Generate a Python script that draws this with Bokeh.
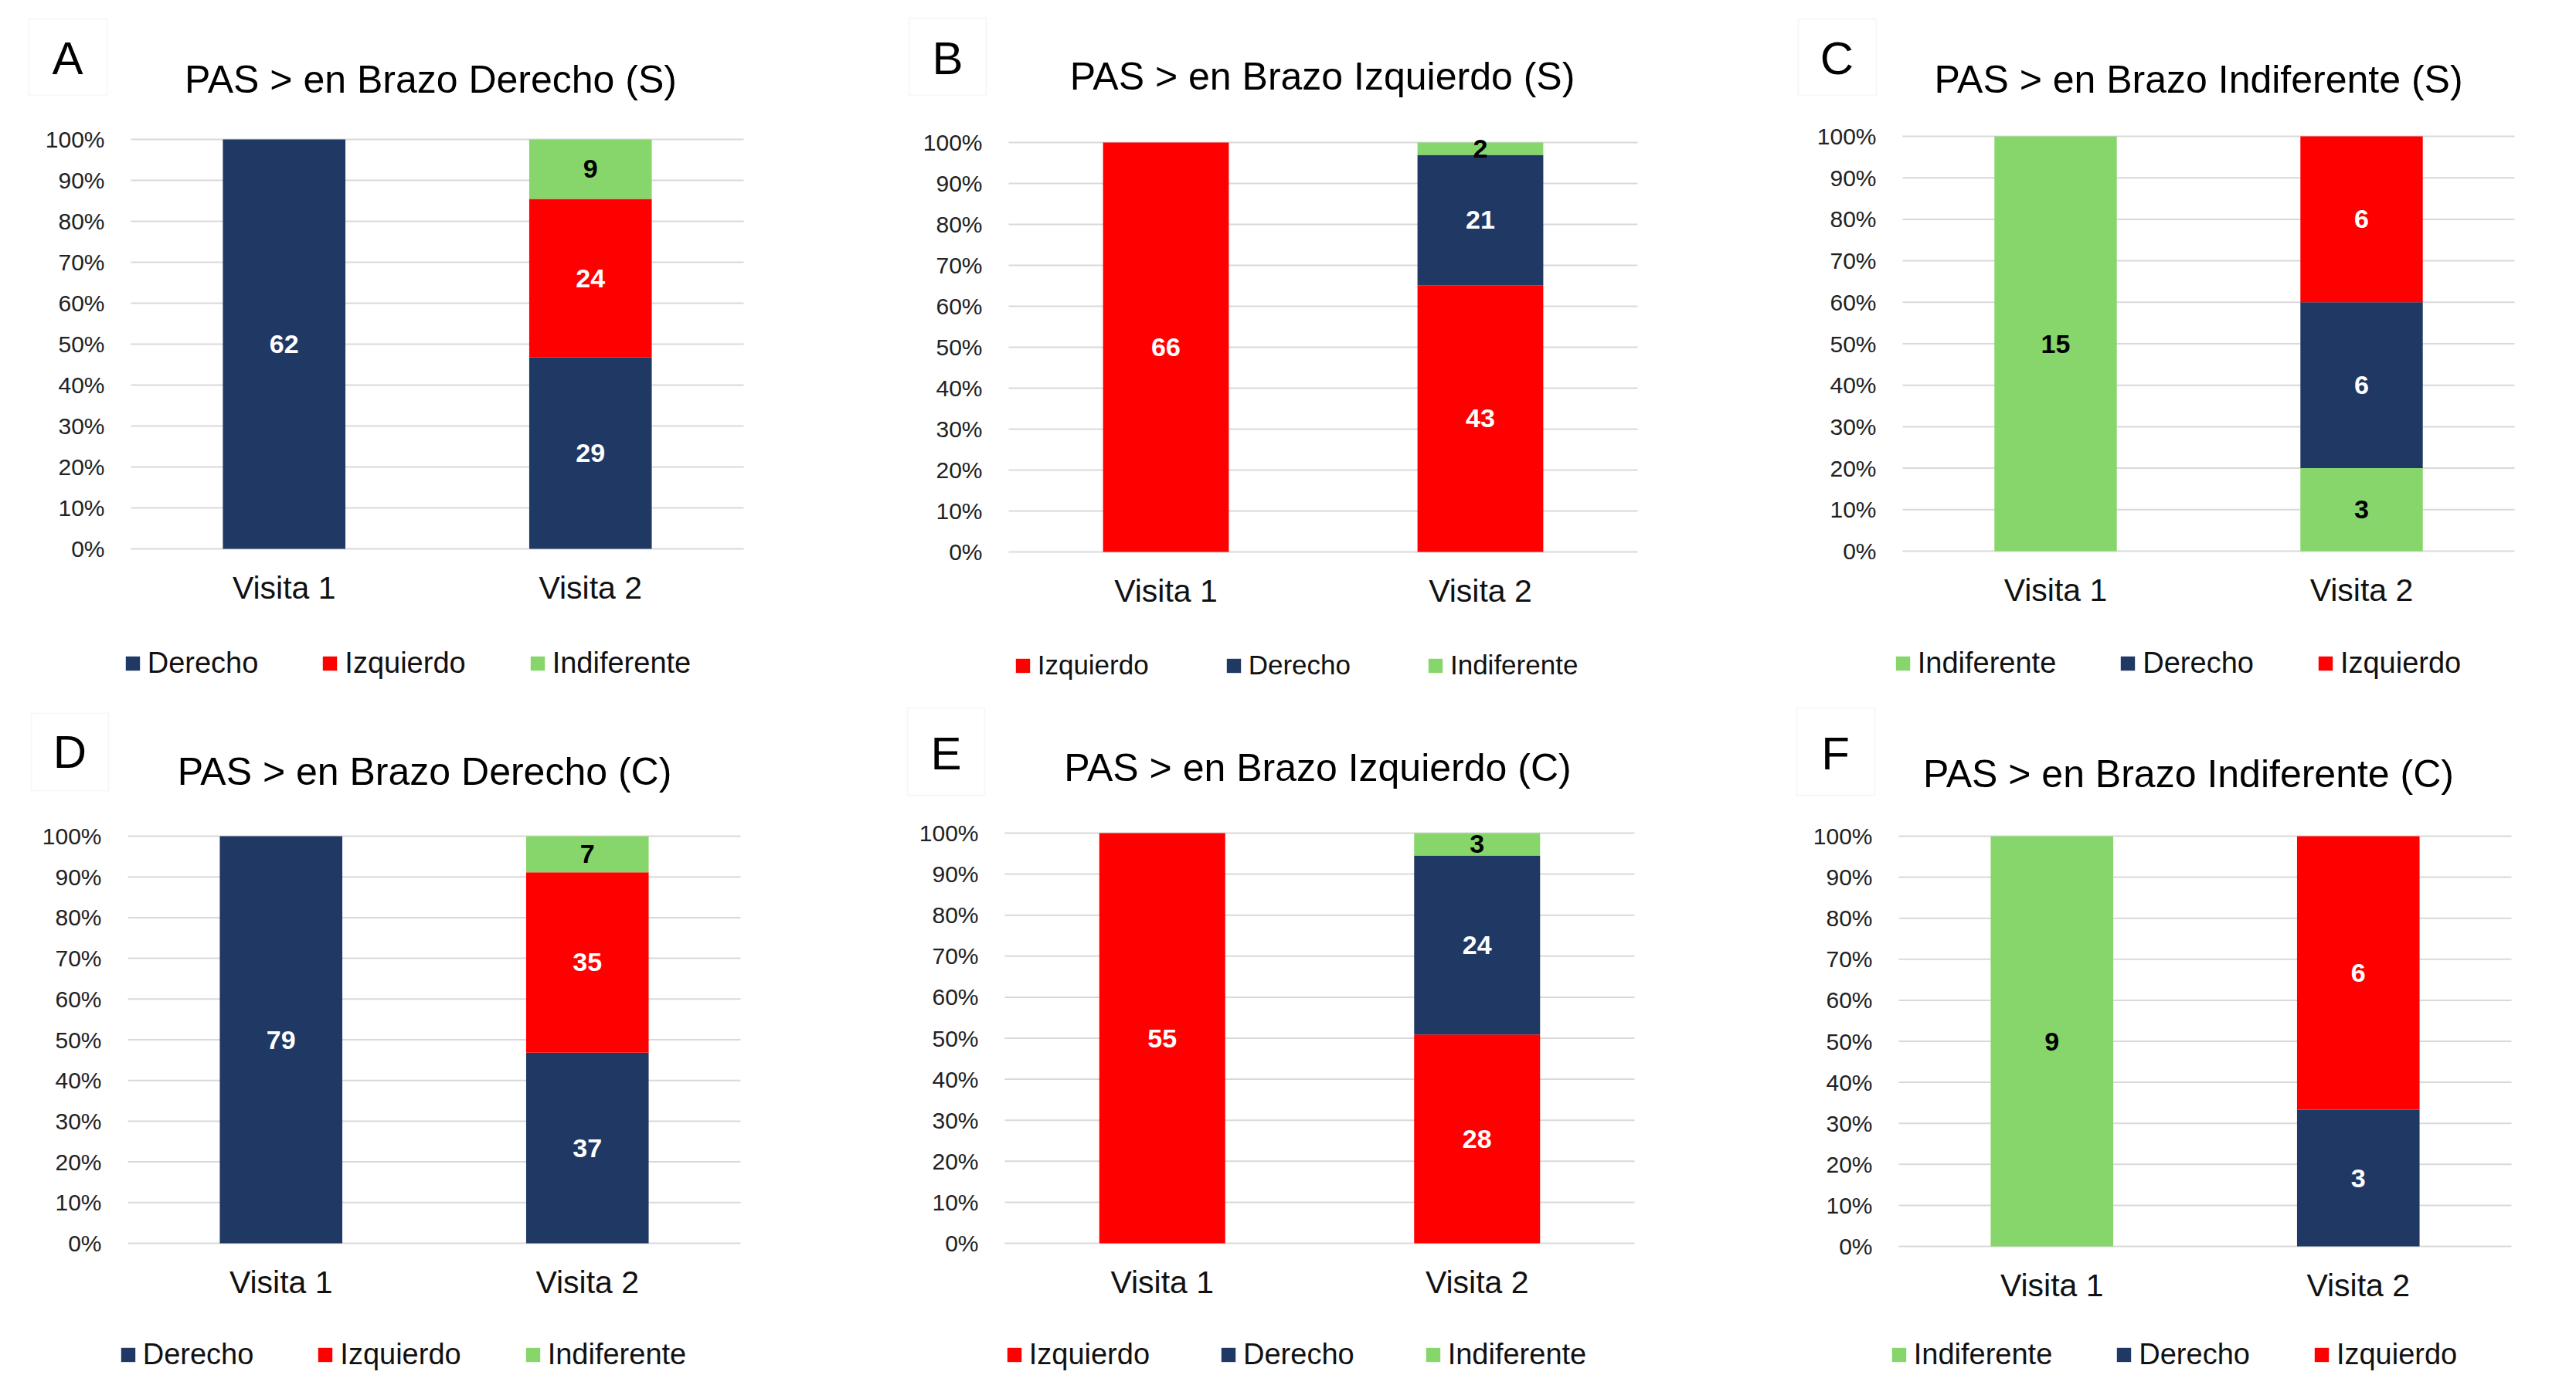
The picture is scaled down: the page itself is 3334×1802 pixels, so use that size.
from bokeh.plotting import figure
from bokeh.layouts import row, column
from bokeh.models import (Range1d, FixedTicker, PrintfTickFormatter, LinearAxis,
                          Label, BoxAnnotation, Legend, LegendItem, ColumnDataSource)
from bokeh.core.properties import value
from bokeh.embed import file_html
from bokeh.resources import INLINE

# ---------------- data ----------------
visitas = ["Visita 1", "Visita 2"]
y_ticks = [0, 10, 20, 30, 40, 50, 60, 70, 80, 90, 100]

a_derecho = [62, 29]
a_izquierdo = [0, 24]
a_indiferente = [0, 9]

b_izquierdo = [66, 43]
b_derecho = [0, 21]
b_indiferente = [0, 2]

c_indiferente = [15, 3]
c_derecho = [0, 6]
c_izquierdo = [0, 6]

d_derecho = [79, 37]
d_izquierdo = [0, 35]
d_indiferente = [0, 7]

e_izquierdo = [55, 28]
e_derecho = [0, 24]
e_indiferente = [0, 3]

f_indiferente = [9, 0]
f_derecho = [0, 3]
f_izquierdo = [0, 6]

titles = ["PAS > en Brazo Derecho (S)", "PAS > en Brazo Izquierdo (S)",
          "PAS > en Brazo Indiferente (S)", "PAS > en Brazo Derecho (C)",
          "PAS > en Brazo Izquierdo (C)", "PAS > en Brazo Indiferente (C)"]
letters = ["A", "B", "C", "D", "E", "F"]

series = [
    [("Derecho", a_derecho), ("Izquierdo", a_izquierdo), ("Indiferente", a_indiferente)],
    [("Izquierdo", b_izquierdo), ("Derecho", b_derecho), ("Indiferente", b_indiferente)],
    [("Indiferente", c_indiferente), ("Derecho", c_derecho), ("Izquierdo", c_izquierdo)],
    [("Derecho", d_derecho), ("Izquierdo", d_izquierdo), ("Indiferente", d_indiferente)],
    [("Izquierdo", e_izquierdo), ("Derecho", e_derecho), ("Indiferente", e_indiferente)],
    [("Indiferente", f_indiferente), ("Derecho", f_derecho), ("Izquierdo", f_izquierdo)],
]

# ---------------- styles ----------------
COLORS = {"Derecho": "#203864", "Izquierdo": "#FF0000", "Indiferente": "#87D66C"}
LABEL_COLORS = {"Derecho": "white", "Izquierdo": "white", "Indiferente": "black"}
FONT = "Liberation Sans"

# picture-pixel layout (plot area L, R, T, B; letter centre; box; title centre; legend)
layout_cfg = [
    dict(L=169, R=962, T=180, B=710, lc=(87, 75), box=(37, 24, 138, 123), tc=(557, 102),
         ly=858, lx=162, sp=81, lf=38),
    dict(L=1305, R=2119, T=184, B=714, lc=(1226, 75), box=(1176, 23, 1276, 123), tc=(1711, 98),
         ly=861, lx=1314, sp=98, lf=35),
    dict(L=2462, R=3254, T=176, B=713, lc=(2377, 75), box=(2327, 24, 2428, 123), tc=(2845, 102),
         ly=858, lx=2453, sp=81, lf=38),
    dict(L=165, R=958, T=1082, B=1609, lc=(90, 973), box=(40, 923, 140, 1023), tc=(549, 998),
         ly=1753, lx=156, sp=81, lf=38),
    dict(L=1300, R=2115, T=1078, B=1609, lc=(1224, 975), box=(1174, 916, 1274, 1029), tc=(1705, 993),
         ly=1753, lx=1303, sp=90, lf=38),
    dict(L=2457, R=3250, T=1082, B=1613, lc=(2375, 975), box=(2325, 916, 2426, 1029), tc=(2832, 1001),
         ly=1753, lx=2448, sp=81, lf=38),
]
col_edges = [(0, 1111), (1111, 2222), (2222, 3318)]
row_edges = [(0, 900), (900, 1786)]

GLYPH = 23            # legend glyph box; the drawn square is inset by 10 %
INSET = GLYPH * 0.1


def make_panel(i):
    cfg = layout_cfg[i]
    cx0, cx1 = col_edges[i % 3]
    ry0, ry1 = row_edges[i // 3]
    L, R, T, B = cfg["L"], cfg["R"], cfg["T"], cfg["B"]
    ppu = (R - L) / 2.0          # pixels per x unit (plot area spans 0.5 .. 2.5)
    ppy = (B - T) / 100.0        # pixels per percent

    def xd(X):
        return 0.5 + (X - L) / ppu

    def yd(Y):
        return (B - Y) / ppy

    p = figure(width=cx1 - cx0, height=ry1 - ry0,
               x_range=Range1d(xd(cx0), xd(cx1)), y_range=Range1d(yd(ry1), yd(ry0)),
               x_axis_type=None, y_axis_type=None,
               output_backend="svg", toolbar_location=None,
               min_border_left=0, min_border_right=0, min_border_top=0, min_border_bottom=0)
    p.outline_line_color = None
    p.background_fill_color = "white"
    p.border_fill_color = "white"

    xpos = [k + 1 for k in range(len(visitas))]

    # gridlines across the plot area
    p.segment(x0=[0.5] * len(y_ticks), x1=[len(visitas) + 0.5] * len(y_ticks),
              y0=y_ticks, y1=y_ticks, line_color="#d9d9d9", line_width=2)

    names = [n for n, _ in series[i]]
    totals = [sum(vals[k] for _, vals in series[i]) for k in range(len(visitas))]
    data = dict(x=xpos)
    for n, vals in series[i]:
        data[n] = [v / t * 100.0 for v, t in zip(vals, totals)]
    src = ColumnDataSource(data)
    rends = p.vbar_stack(names, x="x", width=0.4, color=[COLORS[n] for n in names],
                         source=src, line_width=0)

    # segment labels
    lx, ly, lt, lc = [], [], [], []
    for k in range(len(visitas)):
        base = 0.0
        for n, vals in series[i]:
            pct = vals[k] / totals[k] * 100.0
            if vals[k] > 0:
                lx.append(xpos[k])
                ly.append(base + pct / 2)
                lt.append(str(vals[k]))
                lc.append(LABEL_COLORS[n])
            base += pct
    p.text(x=lx, y=ly, text=lt, text_color=lc, text_font=value(FONT),
           text_font_style="bold", text_font_size="34px",
           text_align="center", text_baseline="middle")

    # axes (fixed at the plot-area edges)
    yax = LinearAxis(fixed_location=0.5, ticker=FixedTicker(ticks=y_ticks),
                     formatter=PrintfTickFormatter(format="%d%%"))
    yax.major_label_text_font = FONT
    yax.major_label_text_font_size = "30px"
    yax.major_label_text_color = "#222222"
    yax.major_label_standoff = 28
    yax.axis_line_color = None
    yax.major_tick_line_color = None
    yax.minor_tick_line_color = None
    p.add_layout(yax, "left")

    xax = LinearAxis(fixed_location=0, ticker=FixedTicker(ticks=xpos),
                     major_label_overrides={xp: v for xp, v in zip(xpos, visitas)})
    xax.major_label_text_font = FONT
    xax.major_label_text_font_size = "41px"
    xax.major_label_text_color = "#111111"
    xax.major_label_standoff = 21
    xax.axis_line_color = None
    xax.major_tick_line_color = None
    xax.minor_tick_line_color = None
    p.add_layout(xax, "below")

    # letter box + letter
    bx0, by0, bx1, by1 = cfg["box"]
    p.add_layout(BoxAnnotation(left=xd(bx0), right=xd(bx1), top=yd(by0), bottom=yd(by1),
                               fill_color="white", fill_alpha=1.0,
                               line_color="#e4e4e4", line_width=2))
    p.add_layout(Label(x=xd(cfg["lc"][0]), y=yd(cfg["lc"][1]),
                       text=letters[i], text_font=FONT, text_font_size="60px",
                       text_color="black", text_align="center", text_baseline="middle"))
    # title
    p.add_layout(Label(x=xd(cfg["tc"][0]), y=yd(cfg["tc"][1]),
                       text=titles[i], text_font=FONT, text_font_size="50px",
                       text_color="black", text_align="center", text_baseline="middle"))

    # legend
    items = [LegendItem(label=n, renderers=[r]) for n, r in zip(names, rends)]
    leg = Legend(items=items, orientation="horizontal",
                 location=(cfg["lx"] - INSET - cx0, ry1 - (cfg["ly"] + 22)),
                 spacing=cfg["sp"], padding=0, margin=0,
                 glyph_width=GLYPH, glyph_height=GLYPH, label_standoff=8, label_height=44,
                 label_text_font=FONT, label_text_font_size="%dpx" % cfg["lf"],
                 label_text_color="#111111",
                 border_line_color=None, background_fill_alpha=0)
    p.add_layout(leg)
    return p


figs = [make_panel(i) for i in range(6)]
layout = column(row(*figs[:3]), row(*figs[3:]))
open("out.html", "w").write(file_html(layout, INLINE))
